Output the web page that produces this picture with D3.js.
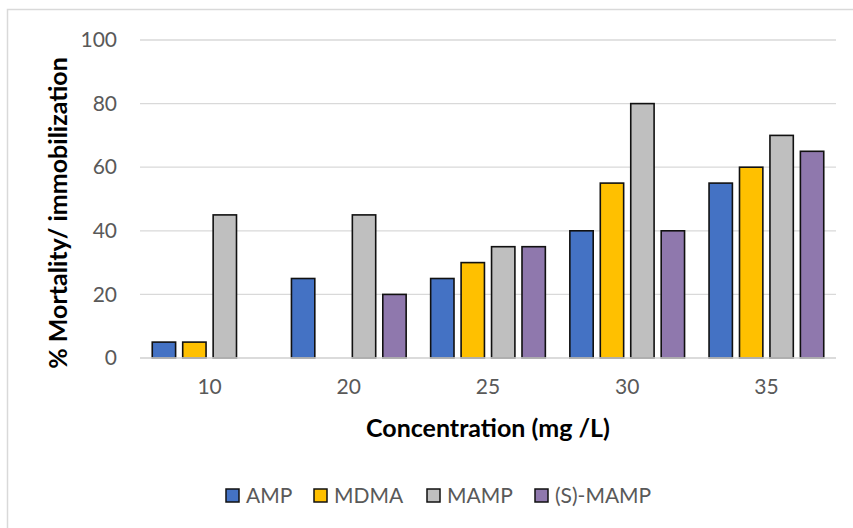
<!DOCTYPE html>
<html>
<head>
<meta charset="utf-8">
<script src="https://cdn.jsdelivr.net/npm/d3@7"></script>
<style>
  html, body { margin: 0; padding: 0; background: #fff; }
  svg { display: block; }
</style>
</head>
<body>
<svg id="chart" width="853" height="528"></svg>
<script>
// Concentration groups and mortality (%) per compound
const categories = ["10", "20", "25", "30", "35"];
const seriesNames = ["AMP", "MDMA", "MAMP", "(S)-MAMP"];
const AMP = [5, 25, 25, 40, 55];
const MDMA = [5, 0, 30, 55, 60];
const MAMP = [45, 45, 35, 80, 70];
const S_MAMP = [0, 20, 35, 40, 65];
const yTicks = [0, 20, 40, 60, 80, 100];
const colors = ["#4472C4", "#FFC000", "#BFBFBF", "#8F78AD"];

const seriesValues = [AMP, MDMA, MAMP, S_MAMP];
const rows = categories.map((c, i) => ({
  cat: c,
  vals: seriesNames.map((s, j) => ({ key: s, value: seriesValues[j][i], idx: j }))
}));

const svg = d3.select("#chart");
const font = "Lato, 'Open Sans', sans-serif";

// outer chart frame
svg.append("rect")
  .attr("x", 7.5).attr("y", 9.5)
  .attr("width", 860).attr("height", 540)
  .attr("fill", "#fff").attr("stroke", "#D9D9D9").attr("stroke-width", 1.5);

const plot = { left: 140, right: 836, top: 40, bottom: 358 };

const x0 = d3.scaleBand().domain(categories).range([plot.left, plot.right]).padding(0);
const bw = x0.bandwidth();
const groupPad = bw * 0.088;
const x1 = d3.scaleBand().domain(seriesNames)
  .range([groupPad, bw - groupPad]).paddingInner(0.233).paddingOuter(0);
const y = d3.scaleLinear().domain([0, 100]).range([plot.bottom, plot.top]);

// gridlines
svg.append("g")
  .selectAll("line").data(yTicks).join("line")
  .attr("x1", plot.left).attr("x2", plot.right)
  .attr("y1", d => y(d)).attr("y2", d => y(d))
  .attr("stroke", "#D9D9D9").attr("stroke-width", 1.3);

// y axis labels
const yAxis = d3.axisLeft(y).tickValues(yTicks).tickSize(0).tickPadding(23);
svg.append("g")
  .attr("transform", `translate(${plot.left},0)`)
  .call(yAxis)
  .call(g => g.select(".domain").remove())
  .call(g => g.selectAll("text")
    .attr("font-family", font).attr("font-size", 21).attr("fill", "#595959"));

// x axis labels
const xAxis = d3.axisBottom(x0).tickSize(0).tickPadding(21);
svg.append("g")
  .attr("transform", `translate(0,${plot.bottom})`)
  .call(xAxis)
  .call(g => g.select(".domain").remove())
  .call(g => g.selectAll("text")
    .attr("font-family", font).attr("font-size", 21).attr("fill", "#595959"));

// bars
const groups = svg.append("g").selectAll("g").data(rows).join("g")
  .attr("transform", d => `translate(${x0(d.cat)},0)`);
groups.selectAll("rect").data(d => d.vals.filter(v => v.value > 0)).join("rect")
  .attr("x", d => x1(d.key))
  .attr("width", x1.bandwidth())
  .attr("y", d => y(d.value))
  .attr("height", d => y(0) - y(d.value))
  .attr("fill", d => colors[d.idx])
  .attr("stroke", "#111").attr("stroke-width", 1.6);

// baseline
svg.append("line")
  .attr("x1", plot.left).attr("x2", plot.right)
  .attr("y1", y(0)).attr("y2", y(0))
  .attr("stroke", "#D9D9D9").attr("stroke-width", 1.5);

// axis titles
svg.append("text")
  .attr("transform", `translate(67,213) rotate(-90)`)
  .attr("text-anchor", "middle")
  .attr("font-family", font).attr("font-weight", "bold").attr("font-size", 25)
  .attr("fill", "#000")
  .text("% Mortality/ immobilization");

svg.append("text")
  .attr("x", 488).attr("y", 437)
  .attr("text-anchor", "middle")
  .attr("font-family", font).attr("font-weight", "bold").attr("font-size", 25)
  .attr("fill", "#000")
  .text("Concentration (mg /L)");

// legend
const legendX = [226, 314, 427, 535];
const legend = svg.append("g").selectAll("g").data(seriesNames).join("g")
  .attr("transform", (d, i) => `translate(${legendX[i]},489)`);
legend.append("rect")
  .attr("width", 13).attr("height", 13)
  .attr("fill", (d, i) => colors[i])
  .attr("stroke", "#111").attr("stroke-width", 1.5);
legend.append("text")
  .attr("x", 20).attr("y", 14)
  .attr("font-family", font).attr("font-size", 21).attr("fill", "#595959")
  .text(d => d);
</script>
</body>
</html>
